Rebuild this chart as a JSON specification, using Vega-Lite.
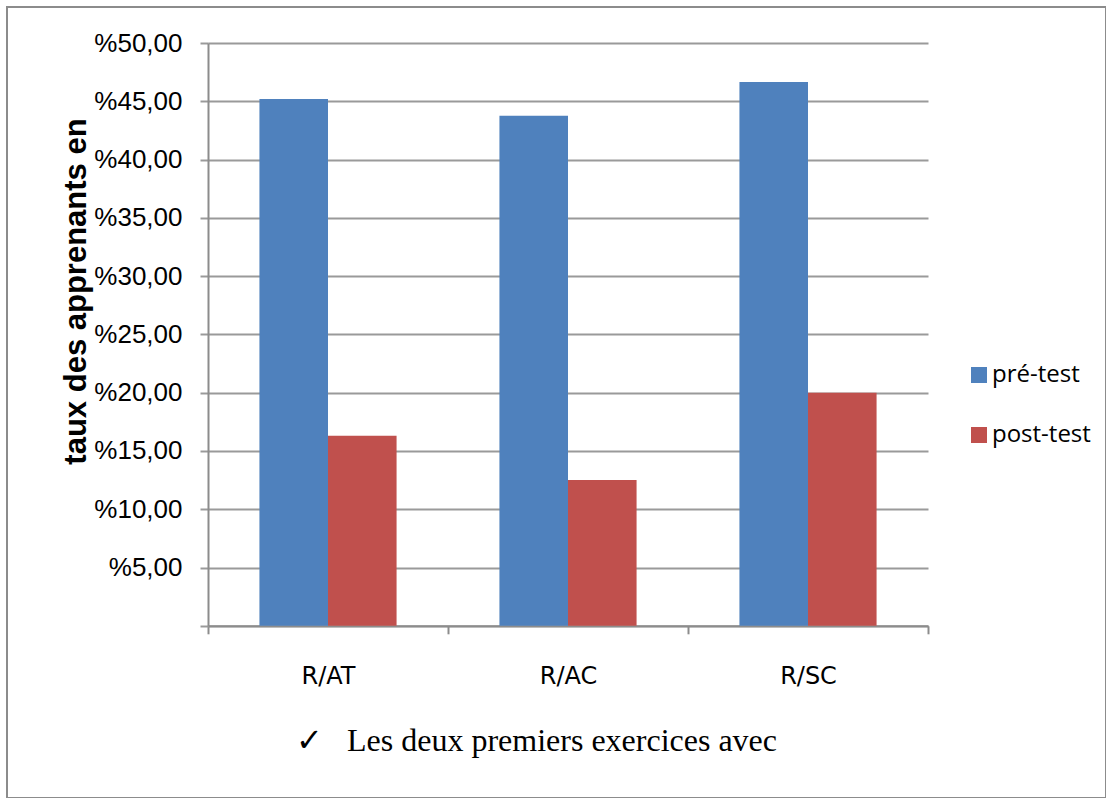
{
  "$schema": "https://vega.github.io/schema/vega-lite/v6.json",
  "width": 1099,
  "height": 791,
  "autosize": {"type": "none"},
  "padding": {"left": 7, "top": 7, "right": 0, "bottom": 0},
  "background": "white",
  "config": {
    "view": {"stroke": "#8c8c8c", "strokeWidth": 2},
    "font": "Liberation Sans"
  },
  "data": {
    "values": [
      {"categorie": "R/AT", "test": "pré-test", "taux": 45.2},
      {"categorie": "R/AT", "test": "post-test", "taux": 16.3},
      {"categorie": "R/AC", "test": "pré-test", "taux": 43.75},
      {"categorie": "R/AC", "test": "post-test", "taux": 12.5},
      {"categorie": "R/SC", "test": "pré-test", "taux": 46.65},
      {"categorie": "R/SC", "test": "post-test", "taux": 20.0}
    ]
  },
  "mark": {"type": "bar"},
  "encoding": {
    "x": {
      "field": "categorie",
      "type": "nominal",
      "sort": ["R/AT", "R/AC", "R/SC"],
      "scale": {"range": [201, 921], "paddingInner": 0, "paddingOuter": 0},
      "axis": {
        "orient": "bottom",
        "offset": -172.2,
        "labelAngle": 0,
        "tickBand": "extent",
        "tickSize": 8,
        "tickWidth": 2,
        "tickColor": "#8c8c8c",
        "domainColor": "#8c8c8c",
        "domainWidth": 2,
        "labelFont": "DejaVu Sans",
        "labelFontSize": 24,
        "labelColor": "black",
        "labelPadding": 31,
        "title": "✓\u00a0\u00a0\u00a0Les deux premiers exercices avec",
        "titleFont": "Liberation Serif",
        "titleFontSize": 32,
        "titleFontWeight": "normal",
        "titleColor": "black",
        "titleX": 529,
        "titleY": 125,
        "titleAlign": "center",
        "titleBaseline": "alphabetic"
      }
    },
    "xOffset": {
      "field": "test",
      "type": "nominal",
      "sort": ["pré-test", "post-test"],
      "scale": {"paddingInner": 0, "paddingOuter": 0.75}
    },
    "y": {
      "field": "taux",
      "type": "quantitative",
      "scale": {"domain": [0, 50], "range": [618.8, 36], "nice": false, "zero": true},
      "axis": {
        "offset": -201,
        "values": [0, 5, 10, 15, 20, 25, 30, 35, 40, 45, 50],
        "labelExpr": "datum.value == 0 ? '' : '%' + replace(format(datum.value, '.2f'), '.', ',')",
        "grid": true,
        "gridColor": "#9a9a9a",
        "gridWidth": 2,
        "tickSize": 8,
        "tickWidth": 2,
        "tickColor": "#9a9a9a",
        "domainColor": "#8c8c8c",
        "domainWidth": 2,
        "labelFontSize": 26,
        "labelColor": "black",
        "labelPadding": 18,
        "title": "taux des apprenants en",
        "titleFontWeight": "bold",
        "titleFontSize": 31,
        "titleColor": "black",
        "titleAngle": -90,
        "titleX": -132,
        "titleY": 284,
        "titleAlign": "center",
        "titleBaseline": "middle"
      }
    },
    "color": {
      "field": "test",
      "type": "nominal",
      "scale": {"domain": ["pré-test", "post-test"], "range": ["#4F81BD", "#C0504D"]},
      "legend": {
        "orient": "none",
        "legendX": 960,
        "legendY": 356,
        "title": null,
        "padding": 0,
        "symbolType": "square",
        "symbolSize": 256,
        "symbolStrokeWidth": 0,
        "labelFont": "Open Sans",
        "labelFontSize": 24,
        "labelColor": "black",
        "labelOffset": 1,
        "rowPadding": 36
      }
    }
  }
}
